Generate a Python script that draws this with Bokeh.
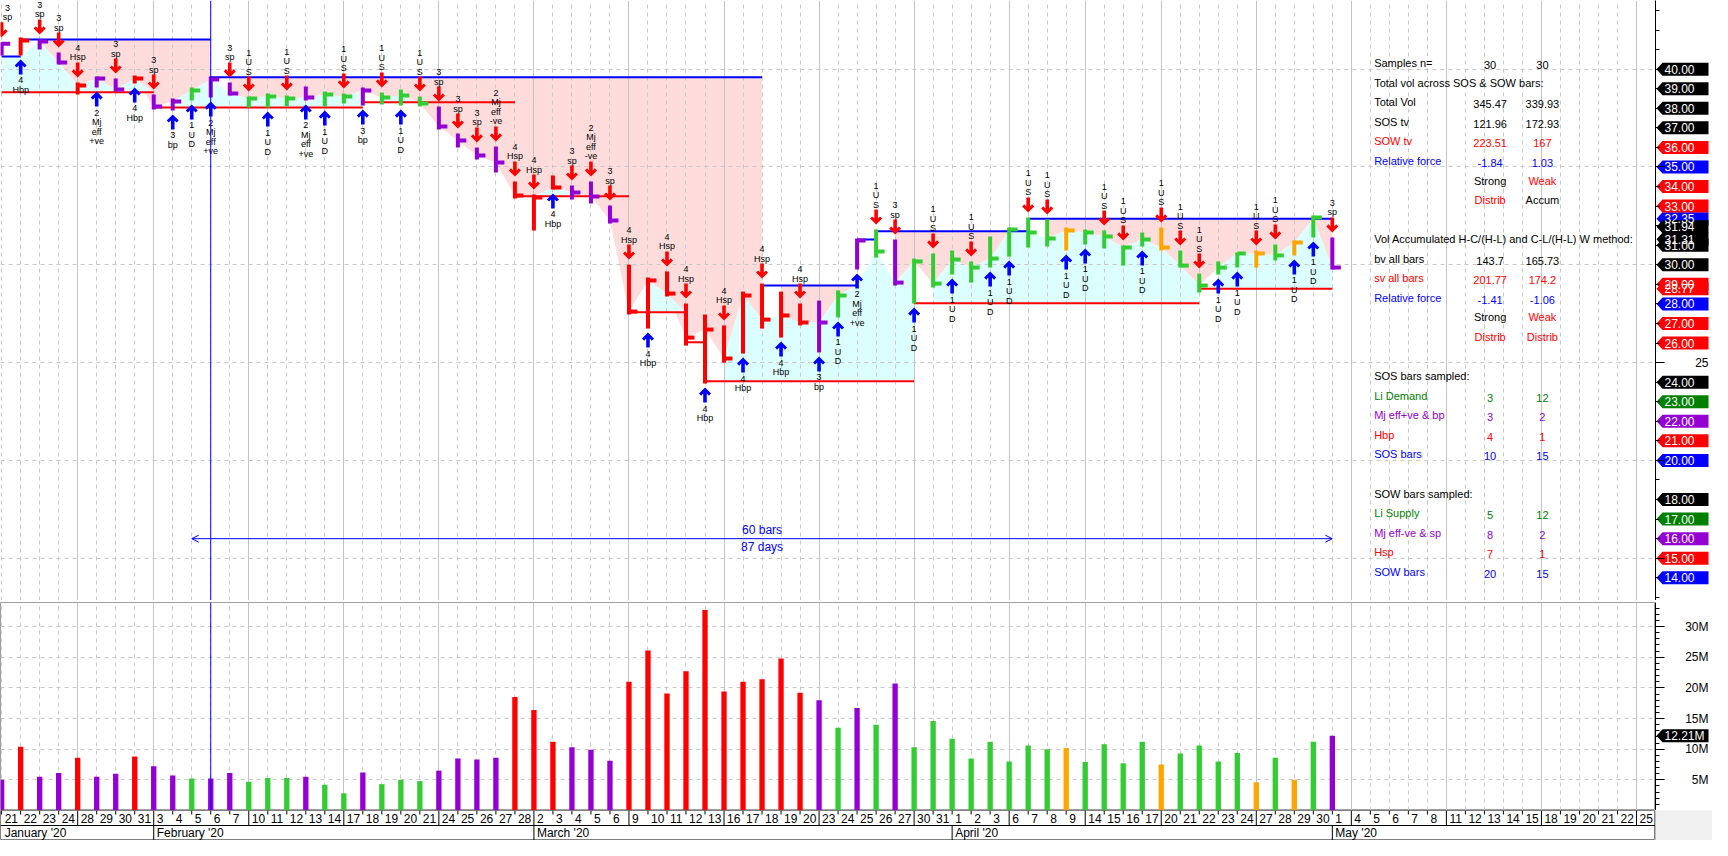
import numpy as np
import pandas as pd
from bokeh.plotting import figure
from bokeh.layouts import column, row
from bokeh.models import Range1d, FixedTicker, Grid, Span, Arrow, OpenHead
from bokeh.core.properties import value
from bokeh.embed import file_html
from bokeh.resources import INLINE

# ------------------------------------------------------------------ data
month_names = ["January '20", "February '20", "March '20", "April '20", "May '20"]
month_numbers = [1, 2, 3, 4, 5]
jan_days = [21, 22, 23, 24, 28, 29, 30, 31]
feb_days = [3, 4, 5, 6, 7, 10, 11, 12, 13, 14, 17, 18, 19, 20, 21, 24, 25, 26, 27, 28]
mar_days = [2, 3, 4, 5, 6, 9, 10, 11, 12, 13, 16, 17, 18, 19, 20, 23, 24, 25, 26, 27, 30, 31]
apr_days = [1, 2, 3, 6, 7, 8, 9, 14, 15, 16, 17, 20, 21, 22, 23, 24, 27, 28, 29, 30]
may_days = [1, 4, 5, 6, 7, 8, 11, 12, 13, 14, 15, 18, 19, 20, 21, 22, 25]

bar_high = [41.37, 41.62, 41.52, 40.85, 39.32, 39.63, 39.52, 39.68, 38.70, 38.50,
            39.06, 39.63, 39.32, 38.60, 38.76, 38.65, 39.11, 38.86, 38.76, 39.06,
            38.81, 38.96, 38.60, 38.09, 36.71, 36.00, 36.05, 34.26, 33.59, 34.57,
            34.05, 34.26, 33.03, 30.01, 29.35, 29.66, 28.02, 27.46, 26.90, 28.63,
            29.04, 28.63, 28.02, 28.17, 28.69, 31.34, 31.80, 31.29, 30.32, 30.58,
            30.73, 30.17, 31.45, 31.91, 32.42, 32.32, 31.91, 31.80, 31.75, 30.99,
            31.65, 31.91, 30.73, 29.55, 30.17, 30.63, 30.73, 31.04, 31.24, 32.52,
            31.40]
bar_low = [40.70, 40.70, 41.01, 40.24, 38.70, 39.06, 38.86, 39.27, 37.94, 37.89,
           38.40, 38.55, 38.65, 38.04, 38.04, 38.09, 38.40, 38.09, 38.25, 38.14,
           38.20, 38.14, 38.09, 36.92, 36.00, 35.38, 34.72, 33.39, 31.75, 33.85,
           33.34, 33.13, 32.11, 27.46, 26.74, 28.38, 25.87, 23.93, 25.00, 25.46,
           26.74, 26.28, 26.90, 25.52, 27.31, 29.76, 30.37, 28.94, 28.02, 28.84,
           29.50, 29.09, 29.86, 30.42, 30.88, 30.94, 30.73, 31.04, 30.83, 29.96,
           30.94, 30.73, 29.86, 28.58, 29.50, 29.86, 29.86, 30.22, 30.48, 31.40,
           29.76]
bar_close = [41.30, 41.47, 41.42, 40.34, 39.17, 39.52, 38.96, 39.52, 38.09, 38.35,
             38.91, 39.47, 38.76, 38.50, 38.60, 38.50, 38.55, 38.70, 38.60, 38.91,
             38.55, 38.65, 38.25, 37.07, 36.35, 35.59, 35.23, 33.54, 33.44, 33.95,
             33.70, 33.49, 32.26, 27.61, 29.20, 28.53, 26.28, 26.69, 25.21, 28.43,
             27.20, 27.41, 27.05, 27.05, 28.43, 31.24, 30.68, 29.09, 30.17, 29.04,
             30.27, 29.86, 30.32, 31.80, 31.65, 31.34, 31.75, 31.65, 31.45, 30.88,
             31.29, 30.88, 29.96, 28.94, 29.86, 30.58, 30.58, 30.48, 31.14, 32.42,
             29.86]
bar_kind = ["p", "r", "p", "p", "r", "p", "p", "r", "p", "p",
            "g", "p", "p", "g", "g", "g", "p", "g", "g", "p",
            "g", "g", "g", "p", "p", "p", "p", "r", "r", "r",
            "p", "p", "p", "r", "r", "r", "r", "r", "r", "r",
            "r", "r", "r", "p", "g", "p", "g", "p", "g", "g",
            "g", "g", "g", "g", "g", "g", "o", "g", "g", "g",
            "g", "o", "g", "g", "g", "g", "o", "g", "o", "g",
            "p"]
volume_m = [5.0, 10.4, 5.5, 6.1, 8.6, 5.5, 6.0, 8.8, 7.2, 5.7,
            5.2, 5.2, 6.1, 4.7, 5.3, 5.3, 5.5, 4.2, 2.8, 6.2,
            4.3, 5.0, 4.8, 6.5, 8.5, 8.3, 8.6, 18.5, 16.4, 11.2,
            10.3, 9.9, 8.1, 21.0, 26.1, 19.1, 22.7, 32.7, 19.4, 21.0,
            21.4, 24.8, 19.2, 18.0, 13.5, 16.7, 14.0, 20.7, 10.3, 14.6,
            11.7, 8.5, 11.2, 8.0, 10.6, 10.0, 10.2, 7.9, 10.8, 7.7,
            11.2, 7.5, 9.3, 10.6, 8.0, 9.4, 4.6, 8.6, 5.0, 11.2,
            12.21]
signal_dir = ["dn", "up", "dn", "dn", "dn", "up", "dn", "up", "dn", "up",
              "up", "up", "dn", "dn", "up", "dn", "up", "up", "dn", "up",
              "dn", "up", "dn", "dn", "dn", "dn", "dn", "dn", "dn", "up",
              "dn", "dn", "dn", "dn", "up", "dn", "dn", "up", "dn", "up",
              "dn", "up", "dn", "up", "up", "up", "dn", "dn", "up", "dn",
              "up", "dn", "up", "up", "dn", "dn", "up", "up", "dn", "dn",
              "up", "dn", "dn", "dn", "up", "up", "dn", "dn", "up", "up",
              "dn"]
signal_text = ["3|sp", "4|Hbp", "3|sp", "3|sp", "4|Hsp", "2|Mj|eff|+ve", "3|sp", "4|Hbp", "3|sp", "3|bp",
               "1|U|D", "2|Mj|eff|+ve", "3|sp", "1|U|S", "1|U|D", "1|U|S", "2|Mj|eff|+ve", "1|U|D", "1|U|S", "3|bp",
               "1|U|S", "1|U|D", "1|U|S", "3|sp", "3|sp", "3|sp", "2|Mj|eff|-ve", "4|Hsp", "4|Hsp", "4|Hbp",
               "3|sp", "2|Mj|eff|-ve", "3|sp", "4|Hsp", "4|Hbp", "4|Hsp", "4|Hsp", "4|Hbp", "4|Hsp", "4|Hbp",
               "4|Hsp", "4|Hbp", "4|Hsp", "3|bp", "1|U|D", "2|Mj|eff|+ve", "1|U|S", "3|sp", "1|U|D", "1|U|S",
               "1|U|D", "1|U|S", "1|U|D", "1|U|D", "1|U|S", "1|U|S", "1|U|D", "1|U|D", "1|U|S", "1|U|S",
               "1|U|D", "1|U|S", "1|U|S", "1|U|S", "1|U|D", "1|U|D", "1|U|S", "1|U|S", "1|U|D", "1|U|D",
               "3|sp"]

# resistance (blue) and support (red) range lines: bar index from / to, price level
top_start = [0, 1, 11, 40, 45, 46, 54]
top_end = [1, 11, 40, 45, 46, 54, 70]
top_level = [40.65, 41.52, 39.59, 28.94, 31.29, 31.72, 32.35]
bot_start = [0, 8, 19, 27, 33, 36, 37, 48, 63]
bot_end = [8, 19, 27, 33, 36, 37, 48, 63, 70]
bot_level = [38.82, 38.04, 38.31, 33.50, 27.58, 26.04, 24.05, 28.04, 28.77]

marker_date = "2020-02-06"
count_from_date = "2020-02-05"
count_to_date = "2020-05-01"
count_level = 16.0
count_labels = ["60 bars", "87 days"]

table_y = [40, 39, 38, 37, 36, 35, 34, 33, 31, 30, 29, 28, 27, 26, 24, 23, 22, 21, 20, 18, 17, 16, 15, 14]
table_label = ["Samples n=", "Total vol across SOS & SOW bars:", "Total Vol", "SOS tv", "SOW tv",
               "Relative force", "", "", "Vol Accumulated H-C/(H-L) and C-L/(H-L) W method:",
               "bv all bars", "sv all bars", "Relative force", "", "", "SOS bars sampled:",
               "Li Demand", "Mj eff+ve & bp", "Hbp", "SOS bars", "SOW bars sampled:",
               "Li Supply", "Mj eff-ve & sp", "Hsp", "SOW bars"]
table_v1 = ["30", "", "345.47", "121.96", "223.51", "-1.84", "Strong", "Distrib", "", "143.7", "201.77",
            "-1.41", "Strong", "Distrib", "", "3", "3", "4", "10", "", "5", "8", "7", "20"]
table_v2 = ["30", "", "339.93", "172.93", "167", "1.03", "Weak", "Accum", "", "165.73", "174.2",
            "-1.06", "Weak", "Distrib", "", "12", "2", "1", "15", "", "12", "2", "1", "15"]
table_c0 = ["k", "k", "k", "k", "r", "b", "k", "k", "k", "k", "r", "b", "k", "k", "k", "g", "p", "r", "b", "k", "g", "p", "r", "b"]
table_c1 = ["k", "k", "k", "k", "r", "b", "k", "r", "k", "k", "r", "b", "k", "r", "k", "g", "p", "r", "b", "k", "g", "p", "r", "b"]
table_c2 = ["k", "k", "k", "k", "r", "b", "r", "k", "k", "k", "r", "b", "r", "r", "k", "g", "p", "r", "b", "k", "g", "p", "r", "b"]

tag_value = [32.35, 31.31, 28.77, 40, 39, 38, 37, 36, 35, 34, 33, 31, 30, 29, 28, 27, 26,
             24, 23, 22, 21, 20, 18, 17, 16, 15, 14, 31.94]
tag_color = ["b", "k", "r", "k", "k", "k", "k", "r", "b", "r", "r", "k", "k", "r", "b", "r", "r",
             "k", "g", "p", "r", "b", "k", "g", "p", "r", "b", "k"]
vol_tag_value = [12.21]
vol_tag_color = ["k"]

price_major = [15, 20, 25, 30, 35, 40]
vol_major = [5, 10, 15, 20, 25, 30]

# ------------------------------------------------------------------ setup
FONT = "Liberation Sans"
BARCOL = {"r": "#ff0000", "p": "#9400d3", "g": "#32cd32", "o": "#ffa500"}
TXTCOL = {"k": "#000000", "r": "#ff0000", "b": "#0000ff", "g": "#008000", "p": "#9400d3"}

W = 1712
RIGHT = 57
FRAME_W = W - RIGHT
PRICE_H = 600
VOL_H = 208
DATE_H = 30
X0, X1 = -0.06, 87.0
Y0, Y1 = 12.84, 43.51
V0, V1 = 0.0, 33.93
kx = FRAME_W / (X1 - X0)
ky = PRICE_H / (Y1 - Y0)
kv = VOL_H / (V1 - V0)

all_days = [jan_days, feb_days, mar_days, apr_days, may_days]
dates = pd.to_datetime([f"2020-{m:02d}-{d:02d}" for m, days in zip(month_numbers, all_days) for d in days])
n_slots = len(dates)
day_text = [str(d.day) for d in dates]
week_start = [i for i in range(1, n_slots) if dates[i].weekday() <= dates[i - 1].weekday()]
month_start = [0] + [i for i in range(1, n_slots) if dates[i].month != dates[i - 1].month]
dashed_x = [i for i in range(n_slots) if i not in week_start]


def date_index(s):
    return int(np.where(dates == pd.Timestamp(s))[0][0])


marker_idx = date_index(marker_date)
cnt_a = date_index(count_from_date)
cnt_b = date_index(count_to_date)

nb = len(bar_close)
idx = list(range(nb))
cols = [BARCOL[k] for k in bar_kind]


def base_fig(height, yr, top=0, border="white", outline=None):
    f = figure(width=FRAME_W, height=height, x_range=shared_x, y_range=yr,
               output_backend="svg", toolbar_location=None, x_axis_location=None,
               y_axis_location=None, min_border_left=0, min_border_right=0,
               min_border_top=top, min_border_bottom=0, outline_line_color=outline,
               background_fill_color="white", border_fill_color=border)
    f.xgrid.grid_line_color = None
    f.ygrid.grid_line_color = None
    return f


def add_grids(fig, hticks):
    fig.add_layout(Grid(dimension=0, ticker=FixedTicker(ticks=dashed_x),
                        grid_line_color="#c8c8c8", grid_line_dash="4 4"))
    fig.add_layout(Grid(dimension=0, ticker=FixedTicker(ticks=week_start),
                        grid_line_color="#c4c4c4"))
    if hticks:
        fig.add_layout(Grid(dimension=1, ticker=FixedTicker(ticks=hticks),
                            grid_line_color="#c8c8c8", grid_line_dash="4 4"))


def scale_fig(height, yr, majors, minors, labels, tags, tcols, unit_px, fmt, top=0):
    # narrow value-scale column: real axis line + inward ticks, value tags
    f = figure(width=RIGHT, height=height, x_range=Range1d(0, RIGHT), y_range=yr,
               output_backend="svg", toolbar_location=None, x_axis_location=None,
               y_axis_location="left", min_border_left=0, min_border_right=0,
               min_border_top=top, min_border_bottom=0, outline_line_color=None,
               background_fill_color="white", border_fill_color="white")
    f.xgrid.grid_line_color = None
    f.ygrid.grid_line_color = None
    ax = f.yaxis[0]
    ax.ticker = FixedTicker(ticks=majors, minor_ticks=minors)
    ax.major_label_overrides = {m: "" for m in majors}
    ax.major_label_text_font_size = "0px"
    ax.major_label_standoff = 0
    ax.axis_line_color = "black"
    ax.major_tick_line_color = "black"
    ax.minor_tick_line_color = "black"
    ax.major_tick_in = 9
    ax.major_tick_out = 0
    ax.minor_tick_in = 4
    ax.minor_tick_out = 0
    free = [m for m in majors if m not in tags]
    f.text(x=[RIGHT - 4] * len(free), y=free, text=[labels[m] for m in free],
           text_font=value(FONT), text_font_size="12px", text_align="right",
           text_baseline="middle", text_color="black")
    h = 6.5 / unit_px
    xs, ys = [], []
    for v in tags:
        xs.append([1, 7, RIGHT - 4, RIGHT - 4, 7])
        ys.append([v, v + h, v + h, v - h, v - h])
    f.patches(xs=xs, ys=ys, fill_color=[TXTCOL[c] for c in tcols], line_color=None)
    f.text(x=[9] * len(tags), y=tags, text=[fmt(v) for v in tags], text_font=value(FONT),
           text_font_size="12px", text_align="left", text_baseline="middle", text_color="white")
    return f


shared_x = Range1d(X0, X1)

# ------------------------------------------------------------------ price pane
p = base_fig(PRICE_H, Range1d(Y0, Y1))

top_at = {}
pink_xs, pink_ys = [], []
for s, e, L in zip(top_start, top_end, top_level):
    ids = list(range(s if s == 0 else s + 1, e + 1))
    for i in ids:
        top_at[i] = L
    if len(ids) < 2:
        continue
    lower = [min(bar_close[i], L) for i in ids]
    pink_xs.append(ids + ids[::-1])
    pink_ys.append([L] * len(ids) + lower[::-1])
cyan_xs, cyan_ys = [], []
for s, e, B in zip(bot_start, bot_end, bot_level):
    ids = list(range(s if s == 0 else s + 1, e + 1))
    if len(ids) < 2:
        continue
    upper = [min(max(bar_close[i], B), top_at.get(i, 1e9)) for i in ids]
    cyan_xs.append(ids + ids[::-1])
    cyan_ys.append([B] * len(ids) + upper[::-1])
p.patches(xs=pink_xs, ys=pink_ys, fill_color="#ffdcdc", line_color=None, level="image")
p.patches(xs=cyan_xs, ys=cyan_ys, fill_color="#dcffff", line_color=None, level="image")
add_grids(p, price_major)

p.segment(x0=top_start, y0=top_level, x1=top_end, y1=top_level, line_color="#0000ff", line_width=2)
p.segment(x0=bot_start, y0=bot_level, x1=bot_end, y1=bot_level, line_color="#ff0000", line_width=2)
p.add_layout(Span(location=marker_idx, dimension="height", line_color="#0000ff", line_width=1))

p.segment(x0=idx, y0=bar_low, x1=idx, y1=bar_high, line_color=cols, line_width=4)
p.segment(x0=idx, y0=bar_close, x1=[i + 8.5 / kx for i in idx], y1=bar_close,
          line_color=cols, line_width=4)

ARROW = [(0, 0), (-6, 6), (-3.9, 8.1), (-1.8, 6.0), (-1.8, 15), (1.8, 15), (1.8, 6.0), (3.9, 8.1), (6, 6)]
ax_dn, ay_dn, ax_up, ay_up = [], [], [], []
lab_x, lab_y, lab_t = [], [], []
x_min_label = X0 + 7 / kx   # keep signal labels inside the left edge
for i in idx:
    parts = signal_text[i].split("|")
    if signal_dir[i] == "dn":
        tip = bar_high[i] + 5 / ky
        ax_dn.append([i + a / kx for a, b in ARROW])
        ay_dn.append([tip + b / ky for a, b in ARROW])
        for k, t in enumerate(parts):
            lab_x.append(max(i, x_min_label))
            lab_y.append(tip + (20 + (len(parts) - 1 - k) * 9.5) / ky)
            lab_t.append(t)
    else:
        tip = bar_low[i] - 4 / ky
        ax_up.append([i + a / kx for a, b in ARROW])
        ay_up.append([tip - b / ky for a, b in ARROW])
        for k, t in enumerate(parts):
            lab_x.append(max(i, x_min_label))
            lab_y.append(tip - (21 + k * 9.5) / ky)
            lab_t.append(t)
p.patches(xs=ax_dn, ys=ay_dn, fill_color="#ff0000", line_color=None)
p.patches(xs=ax_up, ys=ay_up, fill_color="#0000ff", line_color=None)
p.text(x=lab_x, y=lab_y, text=lab_t, text_font=value(FONT), text_font_size="9px",
       text_align="center", text_baseline="middle", text_color="black")

p.add_layout(Arrow(start=OpenHead(size=7, line_color="#0000ff", line_width=1),
                   end=OpenHead(size=7, line_color="#0000ff", line_width=1),
                   x_start=cnt_a, y_start=count_level, x_end=cnt_b, y_end=count_level,
                   line_color="#0000ff", line_width=1))
mid = (cnt_a + cnt_b) / 2
p.text(x=[mid, mid], y=[count_level + 9 / ky, count_level - 8 / ky], text=count_labels,
       text_font=value(FONT), text_font_size="12px", text_align="center",
       text_baseline="middle", text_color="#0000ff")

X_LAB, X_C1, X_C2 = 72.2, 78.3, 81.05
p.text(x=[X_LAB] * len(table_y), y=table_y, text=table_label, text_color=[TXTCOL[c] for c in table_c0],
       text_font=value(FONT), text_font_size="11px", text_align="left", text_baseline="bottom")
p.text(x=[X_C1] * len(table_y), y=table_y, text=table_v1, text_color=[TXTCOL[c] for c in table_c1],
       text_font=value(FONT), text_font_size="11px", text_align="center", text_baseline="bottom")
p.text(x=[X_C2] * len(table_y), y=table_y, text=table_v2, text_color=[TXTCOL[c] for c in table_c2],
       text_font=value(FONT), text_font_size="11px", text_align="center", text_baseline="bottom")

tp = scale_fig(PRICE_H, p.y_range, price_major, list(range(13, 44)),
               {m: str(m) for m in price_major}, tag_value, tag_color, ky, lambda v: f"{v:.2f}")

# ------------------------------------------------------------------ volume pane
vp = base_fig(VOL_H + 2, Range1d(V0, V1), top=2, outline="#a0a0a0")
add_grids(vp, vol_major)
vp.vbar(x=idx, top=volume_m, bottom=0, width=0.28, fill_color=cols, line_color=None)
vp.add_layout(Span(location=marker_idx, dimension="height", line_color="#0000ff", line_width=1))

tv = scale_fig(VOL_H + 2, vp.y_range, vol_major, list(range(1, 34)),
               {m: f"{m}M" for m in vol_major}, vol_tag_value, vol_tag_color, kv,
               lambda v: f"{v:.2f}M", top=2)

# ------------------------------------------------------------------ date strip
dp = base_fig(DATE_H, Range1d(0, 1), outline="#808080")
small = [i for i in range(n_slots) if i not in week_start]
dp.segment(x0=small, y0=1, x1=small, y1=1 - 4 / DATE_H, line_color="black", line_width=1)
dp.segment(x0=week_start, y0=1, x1=week_start, y1=0.5, line_color="black", line_width=1)
dp.segment(x0=month_start[1:], y0=0.5, x1=month_start[1:], y1=0, line_color="black", line_width=1)
dp.segment(x0=[X0], y0=[0.5], x1=[X1], y1=[0.5], line_color="black", line_width=1)
dp.text(x=list(range(n_slots)), y=0.74, text=day_text, x_offset=3, text_font=value(FONT),
        text_font_size="12px", text_align="left", text_baseline="middle", text_color="black")
dp.text(x=month_start, y=0.25, text=month_names, x_offset=3, text_font=value(FONT),
        text_font_size="12px", text_align="left", text_baseline="middle", text_color="black")

td = figure(width=RIGHT, height=DATE_H, x_range=Range1d(0, 1), y_range=Range1d(0, 1),
            output_backend="svg", toolbar_location=None, x_axis_location=None,
            y_axis_location=None, min_border_left=0, min_border_right=0,
            min_border_top=0, min_border_bottom=0, outline_line_color=None,
            background_fill_color="#f0f0f0", border_fill_color="#f0f0f0")
td.xgrid.grid_line_color = None
td.ygrid.grid_line_color = None
td.segment(x0=[0], y0=[0], x1=[0], y1=[1], line_color="#808080", line_width=1)

layout = row(column(p, vp, dp, spacing=0), column(tp, tv, td, spacing=0), spacing=0)
open("out.html", "w").write(file_html(layout, INLINE))
